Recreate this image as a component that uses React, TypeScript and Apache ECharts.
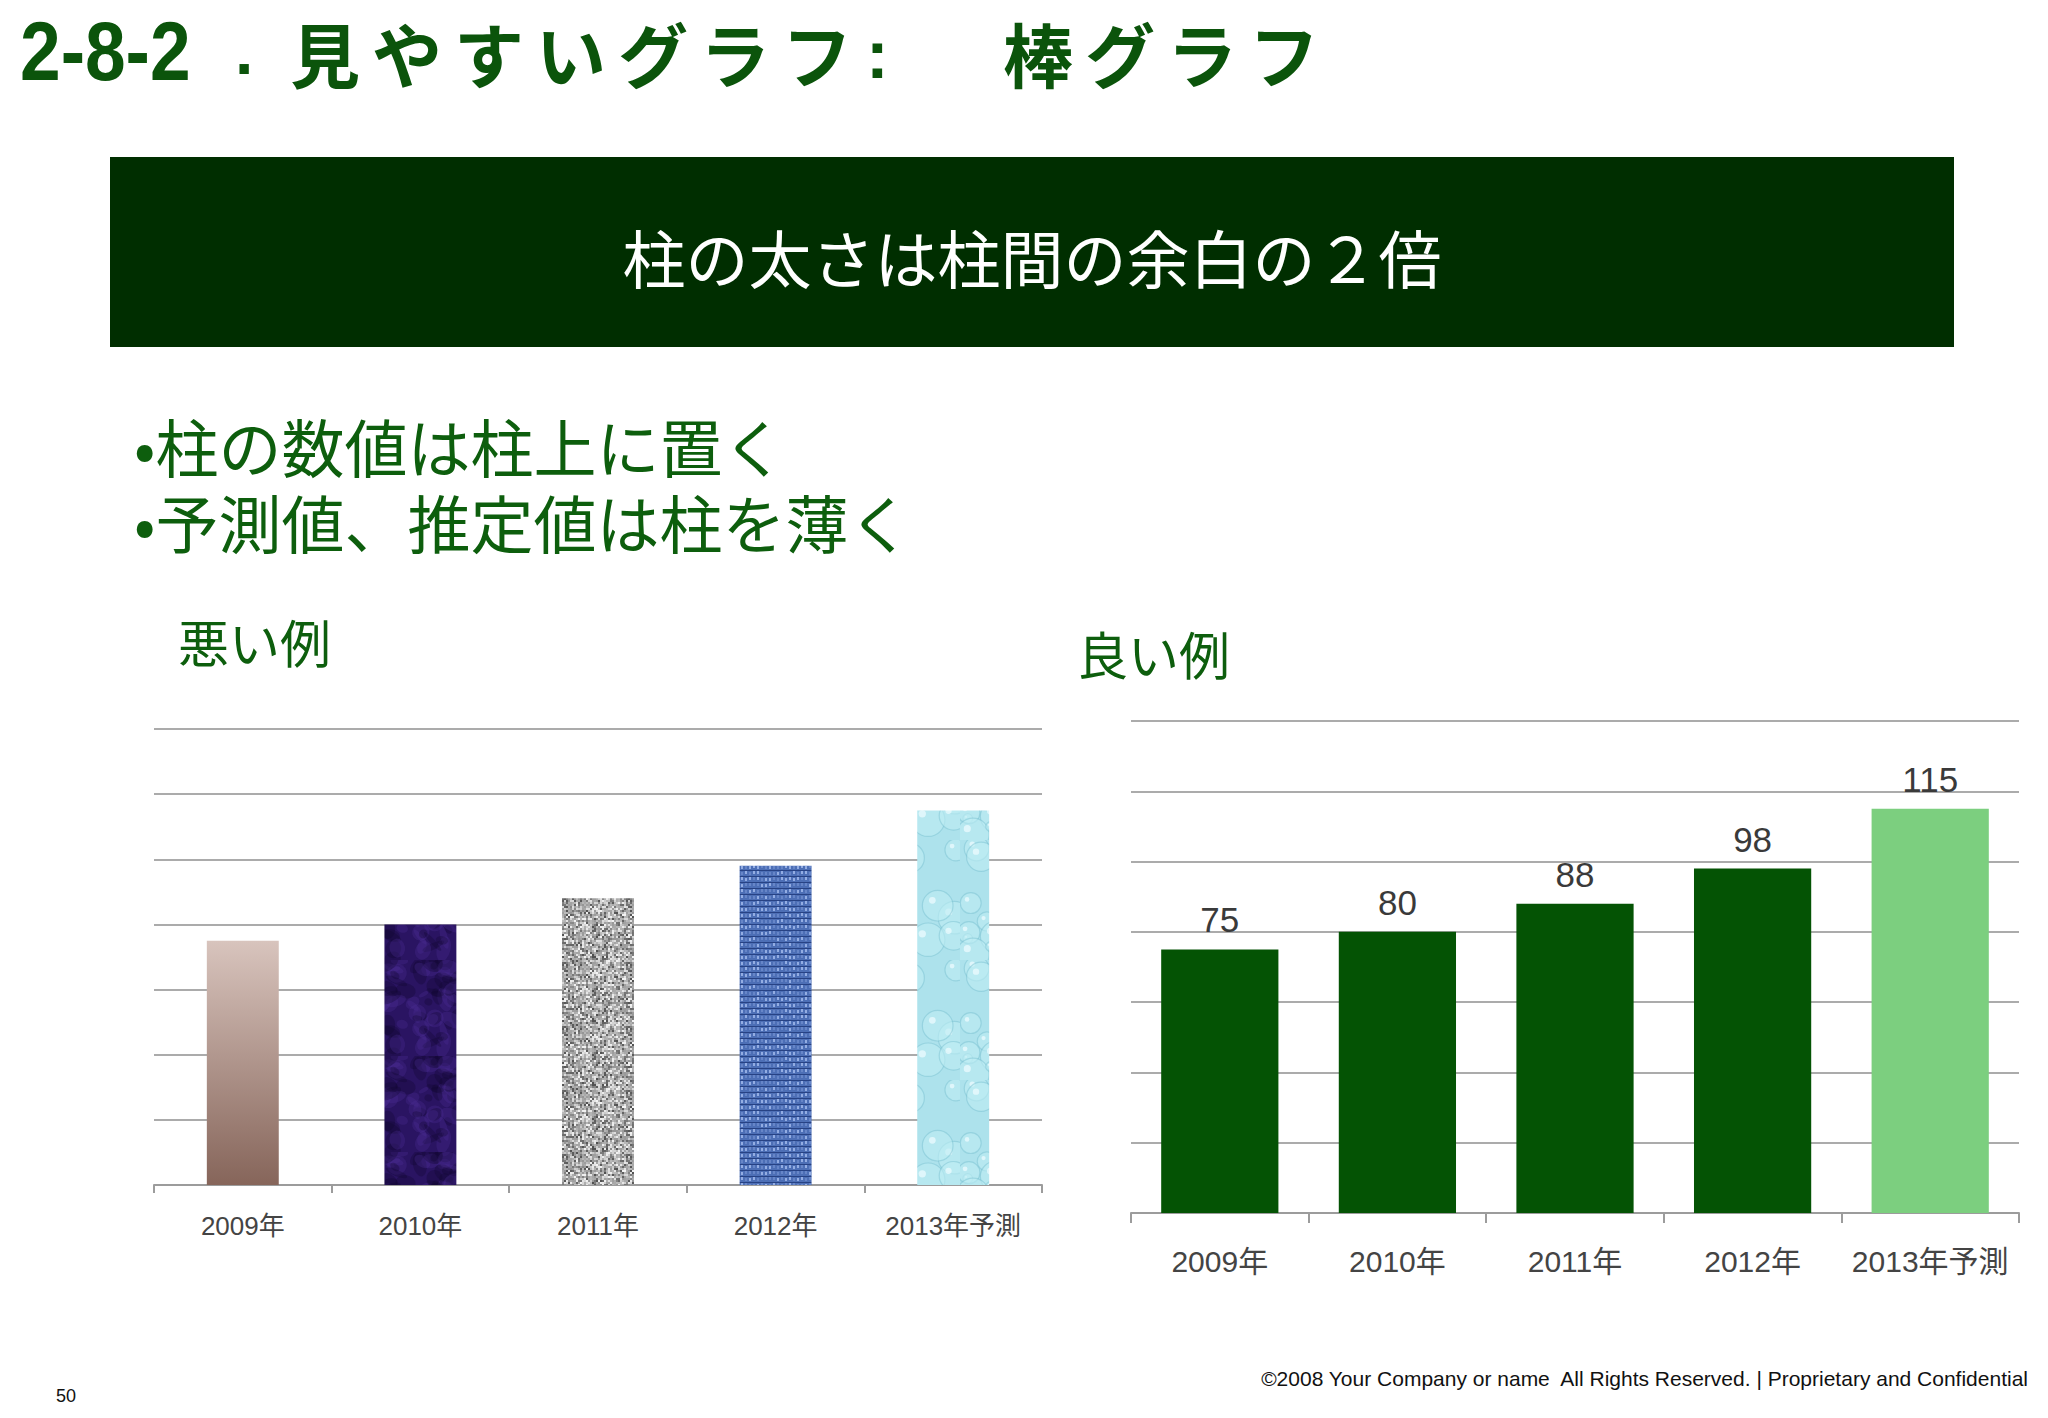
import React, { useEffect, useRef } from "react";
import * as echarts from "echarts";

// ---- data ----
const categories = ["2009年", "2010年", "2011年", "2012年", "2013年予測"];
const values = [75, 80, 88, 98, 115];
const yMin = 0;
const yMax = 140;
const yInterval = 20;
const forecastIndex = 4;

const titleNumber = "2-8-2";
const titleDot = ".";
const titleMain = "見やすいグラフ";
const titleColon = ":";
const titleSub = "棒グラフ";
const bannerText = "柱の太さは柱間の余白の２倍";
const bullets = ["•柱の数値は柱上に置く", "•予測値、推定値は柱を薄く"];
const badLabel = "悪い例";
const goodLabel = "良い例";
const footerText = "©2008 Your Company or name  All Rights Reserved. | Proprietary and Confidential";
const pageNumber = "50";

const CJK = "'Noto Sans CJK JP', 'Noto Sans', sans-serif";
const LAT = "'Liberation Sans', 'Noto Sans CJK JP', sans-serif";

function rng(seed: number) {
  let s = seed >>> 0;
  return () => {
    s = (s + 0x6d2b79f5) >>> 0;
    let t = s;
    t = Math.imul(t ^ (t >>> 15), t | 1);
    t ^= t + Math.imul(t ^ (t >>> 7), t | 61);
    return ((t ^ (t >>> 14)) >>> 0) / 4294967296;
  };
}

function makeCanvas(w: number, h: number, draw: (ctx: CanvasRenderingContext2D) => void) {
  const c = document.createElement("canvas");
  c.width = w;
  c.height = h;
  const ctx = c.getContext("2d")!;
  draw(ctx);
  return c;
}

function purpleTexture() {
  const r = rng(11);
  return makeCanvas(96, 96, (ctx) => {
    ctx.fillStyle = "#2a1462";
    ctx.fillRect(0, 0, 96, 96);
    for (let i = 0; i < 90; i++) {
      ctx.fillStyle = r() > 0.5 ? "rgba(75,45,150,0.3)" : "rgba(18,6,48,0.3)";
      ctx.beginPath();
      ctx.ellipse(r() * 96, r() * 96, 3 + r() * 10, 2 + r() * 8, r() * 3, 0, Math.PI * 2);
      ctx.fill();
    }
  });
}

function graniteTexture() {
  const r = rng(23);
  return makeCanvas(64, 64, (ctx) => {
    ctx.fillStyle = "#b4b4b4";
    ctx.fillRect(0, 0, 64, 64);
    for (let y = 0; y < 64; y += 2) {
      for (let x = 0; x < 64; x += 2) {
        const v = r();
        const g = v < 0.22 ? 80 + Math.floor(r() * 60) : v > 0.7 ? 200 + Math.floor(r() * 45) : 150 + Math.floor(r() * 40);
        ctx.fillStyle = `rgb(${g},${g},${g})`;
        ctx.fillRect(x, y, 2, 2);
      }
    }
  });
}

function fabricTexture() {
  const r = rng(37);
  return makeCanvas(48, 48, (ctx) => {
    ctx.fillStyle = "#4d6fb6";
    ctx.fillRect(0, 0, 48, 48);
    for (let y = 0; y < 48; y += 6) {
      ctx.fillStyle = "rgba(30,55,120,0.8)";
      ctx.fillRect(0, y, 48, 1);
      for (let x = 0; x < 48; x += 4) {
        ctx.fillStyle = r() > 0.4 ? "rgba(160,185,235,0.85)" : "rgba(110,140,205,0.8)";
        ctx.fillRect(x + 1, y + 1 + Math.floor(r() * 2), 2, 3);
      }
    }
  });
}

function waterTexture() {
  const r = rng(53);
  return makeCanvas(120, 120, (ctx) => {
    ctx.fillStyle = "#ade2ec";
    ctx.fillRect(0, 0, 120, 120);
    for (let i = 0; i < 16; i++) {
      const x = r() * 120;
      const y = r() * 120;
      const rad = 4 + r() * 13;
      ctx.beginPath();
      ctx.arc(x, y, rad, 0, Math.PI * 2);
      ctx.fillStyle = "rgba(190,236,244,0.6)";
      ctx.fill();
      ctx.strokeStyle = "rgba(110,185,202,0.4)";
      ctx.lineWidth = 1.2;
      ctx.stroke();
      ctx.beginPath();
      ctx.arc(x - rad * 0.35, y - rad * 0.35, rad * 0.22, 0, Math.PI * 2);
      ctx.fillStyle = "rgba(240,252,255,0.7)";
      ctx.fill();
    }
  });
}

export default function App() {
  const ref = useRef<HTMLDivElement>(null);

  useEffect(() => {
    document.body.style.margin = "0";
    const chart = echarts.init(ref.current!, undefined, { renderer: "svg" });

    const badStyles: any[] = [
      {
        color: new echarts.graphic.LinearGradient(0, 0, 0, 1, [
          { offset: 0, color: "#d8c4bd" },
          { offset: 1, color: "#86655a" },
        ]),
      },
      { color: { image: purpleTexture(), repeat: "repeat" } },
      { color: { image: graniteTexture(), repeat: "repeat" } },
      { color: { image: fabricTexture(), repeat: "repeat" } },
      { color: { image: waterTexture(), repeat: "repeat" } },
    ];

    const xAxisCommon = (gridIndex: number, fontSize: number, margin: number, tickLen: number) => ({
      type: "category",
      gridIndex,
      data: categories,
      axisLine: { lineStyle: { color: "#9c9c9c", width: 2 } },
      axisTick: { show: true, length: tickLen, lineStyle: { color: "#9c9c9c", width: 2 } },
      axisLabel: { interval: 0, fontSize, color: "#444", margin, fontFamily: LAT },
    });
    const yAxisCommon = (gridIndex: number) => ({
      type: "value",
      gridIndex,
      min: yMin,
      max: yMax,
      interval: yInterval,
      axisLabel: { show: false },
      axisLine: { show: false },
      axisTick: { show: false },
      splitLine: { lineStyle: { color: "#ababab", width: 2 } },
    });

    const green = "#0b540b";
    const titleGraphics: any[] = [];
    titleGraphics.push({
      type: "text",
      x: 20,
      y: 51,
      scaleX: 0.87,
      style: { text: titleNumber, fontSize: 84, fontWeight: "bold", fontFamily: LAT, fill: green, textVerticalAlign: "middle" },
    });
    titleGraphics.push({
      type: "text",
      x: 235,
      y: 51,
      style: { text: titleDot, fontSize: 66, fontWeight: "bold", fontFamily: LAT, fill: green, textVerticalAlign: "middle" },
    });
    Array.from(titleMain).forEach((ch, i) => {
      titleGraphics.push({
        type: "text",
        x: 290 + i * 82,
        y: 52,
        style: { text: ch, fontSize: 70, fontWeight: "bold", fontFamily: CJK, fill: green, textVerticalAlign: "middle" },
      });
    });
    titleGraphics.push({
      type: "text",
      x: 866,
      y: 54,
      style: { text: titleColon, fontSize: 68, fontWeight: "bold", fontFamily: LAT, fill: green, textVerticalAlign: "middle" },
    });
    Array.from(titleSub).forEach((ch, i) => {
      titleGraphics.push({
        type: "text",
        x: 1003 + i * 82,
        y: 52,
        style: { text: ch, fontSize: 70, fontWeight: "bold", fontFamily: CJK, fill: green, textVerticalAlign: "middle" },
      });
    });

    chart.setOption({
      animation: false,
      backgroundColor: "#ffffff",
      graphic: [
        ...titleGraphics,
        { type: "rect", shape: { x: 110, y: 157, width: 1844, height: 190 }, style: { fill: "#002e00" } },
        {
          type: "text",
          x: 1032,
          y: 255,
          style: { text: bannerText, fontSize: 63, fontFamily: CJK, fill: "#ffffff", textAlign: "center", textVerticalAlign: "middle" },
        },
        {
          type: "text",
          x: 134,
          y: 482,
          style: { text: bullets.join("\n"), fontSize: 63, lineHeight: 76, fontFamily: CJK, fill: "#0d5e0d", textVerticalAlign: "middle" },
        },
        {
          type: "text",
          x: 178,
          y: 641,
          style: { text: badLabel, fontSize: 51, fontFamily: CJK, fill: "#0d5e0d", textVerticalAlign: "middle" },
        },
        {
          type: "text",
          x: 1077,
          y: 653,
          style: { text: goodLabel, fontSize: 51, fontFamily: CJK, fill: "#0d5e0d", textVerticalAlign: "middle" },
        },
        {
          type: "text",
          x: 2028,
          y: 1378,
          style: { text: footerText, fontSize: 21, fontFamily: LAT, fill: "#111", textAlign: "right", textVerticalAlign: "middle" },
        },
        {
          type: "text",
          x: 56,
          y: 1396,
          style: { text: pageNumber, fontSize: 18, fontFamily: LAT, fill: "#111", textVerticalAlign: "middle" },
        },
      ],
      grid: [
        { left: 154, top: 729, width: 888, height: 456 },
        { left: 1131, top: 721, width: 888, height: 492 },
      ],
      xAxis: [xAxisCommon(0, 26, 28, 8), xAxisCommon(1, 30, 33, 10)],
      yAxis: [yAxisCommon(0), yAxisCommon(1)],
      series: [
        {
          type: "bar",
          xAxisIndex: 0,
          yAxisIndex: 0,
          barWidth: "40.5%",
          data: values.map((v, i) => ({ value: v, itemStyle: badStyles[i] })),
        },
        {
          type: "bar",
          xAxisIndex: 1,
          yAxisIndex: 1,
          barWidth: "66%",
          label: { show: true, position: "top", distance: 12, fontSize: 35, color: "#3a3a3a", fontFamily: LAT },
          data: values.map((v, i) => ({
            value: v,
            itemStyle: { color: i === forecastIndex ? "#7ccf7f" : "#045304" },
          })),
        },
      ],
    });

    return () => chart.dispose();
  }, []);

  return <div ref={ref} style={{ width: 2048, height: 1418 }} />;
}
